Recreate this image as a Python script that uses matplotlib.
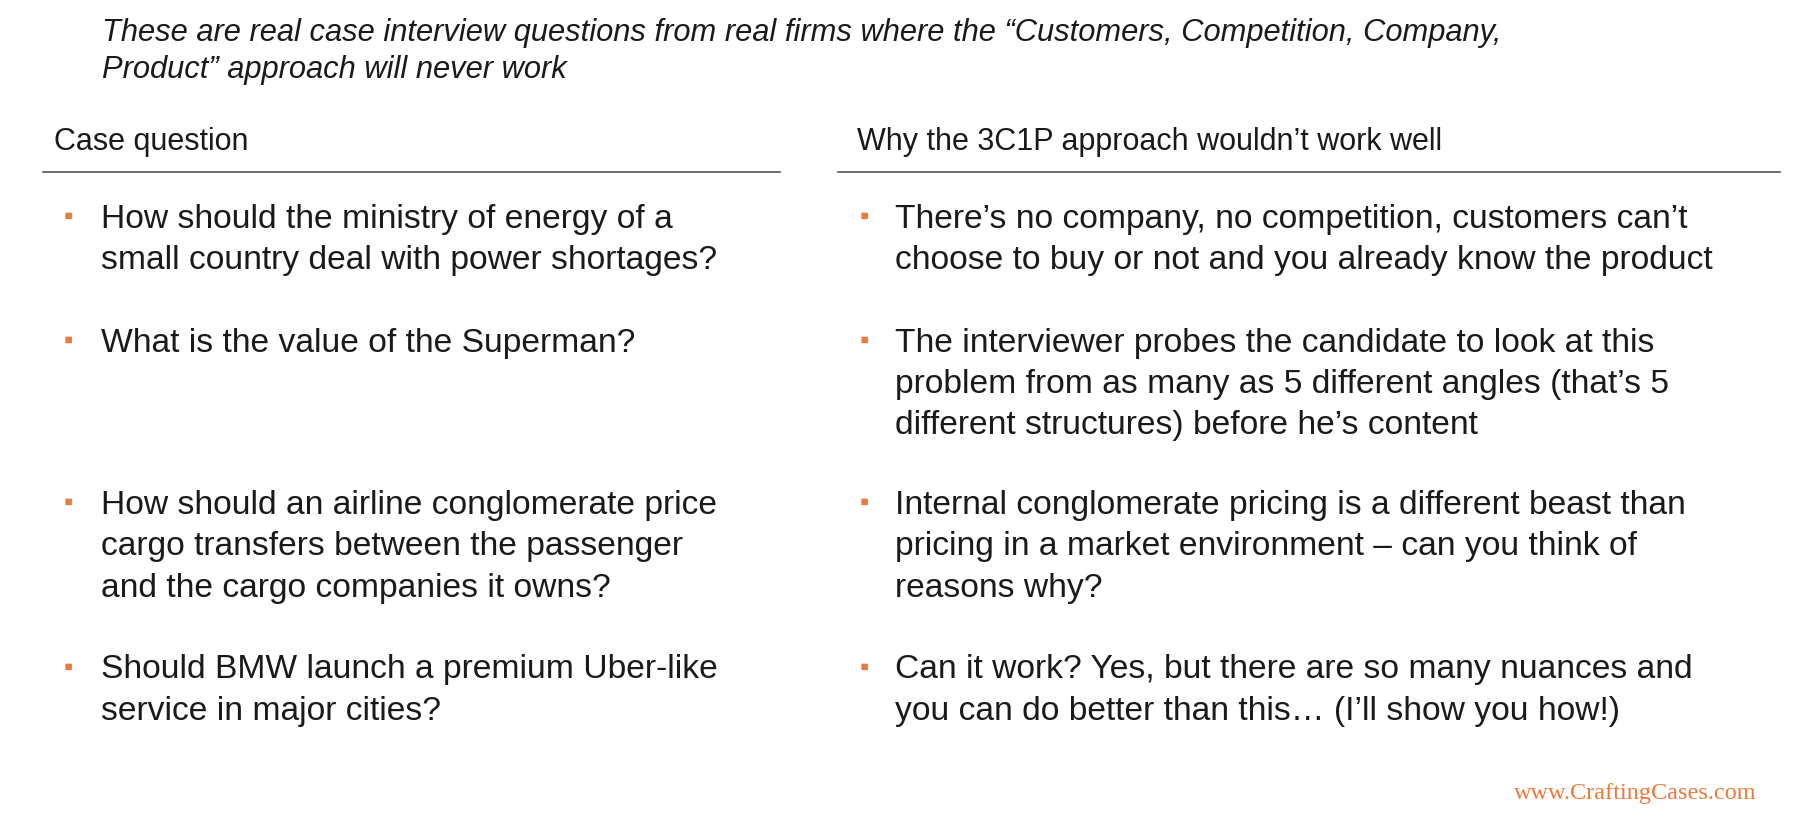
import matplotlib
matplotlib.use("Agg")
import matplotlib.pyplot as plt

title = ["These are real case interview questions from real firms where the \u201cCustomers, Competition, Company,",
         "Product\u201d approach will never work"]
headers = ["Case question", "Why the 3C1P approach wouldn\u2019t work well"]
questions = [
    ["How should the ministry of energy of a", "small country deal with power shortages?"],
    ["What is the value of the Superman?"],
    ["How should an airline conglomerate price", "cargo transfers between the passenger", "and the cargo companies it owns?"],
    ["Should BMW launch a premium Uber-like", "service in major cities?"],
]
reasons = [
    ["There\u2019s no company, no competition, customers can\u2019t", "choose to buy or not and you already know the product"],
    ["The interviewer probes the candidate to look at this", "problem from as many as 5 different angles (that\u2019s 5", "different structures) before he\u2019s content"],
    ["Internal conglomerate pricing is a different beast than", "pricing in a market environment \u2013 can you think of", "reasons why?"],
    ["Can it work? Yes, but there are so many nuances and", "you can do better than this\u2026 (I\u2019ll show you how!)"],
]
row_tops = [188, 294, 433, 574]
watermark = "www.CraftingCases.com"

W, H = 1552, 701
plt.rcParams['font.family'] = ['Liberation Sans', 'DejaVu Sans']
fig = plt.figure(figsize=(18.2, 8.18), dpi=100)
fx = lambda x: x / W
fy = lambda y: 1 - y / H
orange = "#EE7A3A"
txt = "#1a1a1a"

for i, line in enumerate(title):
    fig.text(fx(87), fy(28 + 32 * i), line, style='italic', fontsize=22.2, color=txt, va='center')
fig.text(fx(46), fy(122), headers[0], fontsize=22, color=txt, va='center')
fig.text(fx(731), fy(122), headers[1], fontsize=22, color=txt, va='center')
for x0, x1 in [(37, 665), (715, 1518)]:
    fig.add_artist(plt.Line2D([fx(x0), fx(x1)], [fy(147), fy(147)], color="#555555", lw=1.2))

lh = 35.5
for col, (bx, tx) in zip([questions, reasons], [(58, 86), (737, 763)]):
    for lines, top in zip(col, row_tops):
        fig.text(fx(bx), fy(top - 2), "\u25aa", color=orange, fontsize=19, va='center', ha='center')
        for j, l in enumerate(lines):
            fig.text(fx(tx), fy(top + lh * j), l, fontsize=24.2, color=txt, va='center')

fig.text(fx(1498), fy(680), watermark, color=orange, fontsize=17.5, family=['Liberation Serif'], ha='right', va='center')
fig.savefig("out.png", dpi=100, facecolor='white')
